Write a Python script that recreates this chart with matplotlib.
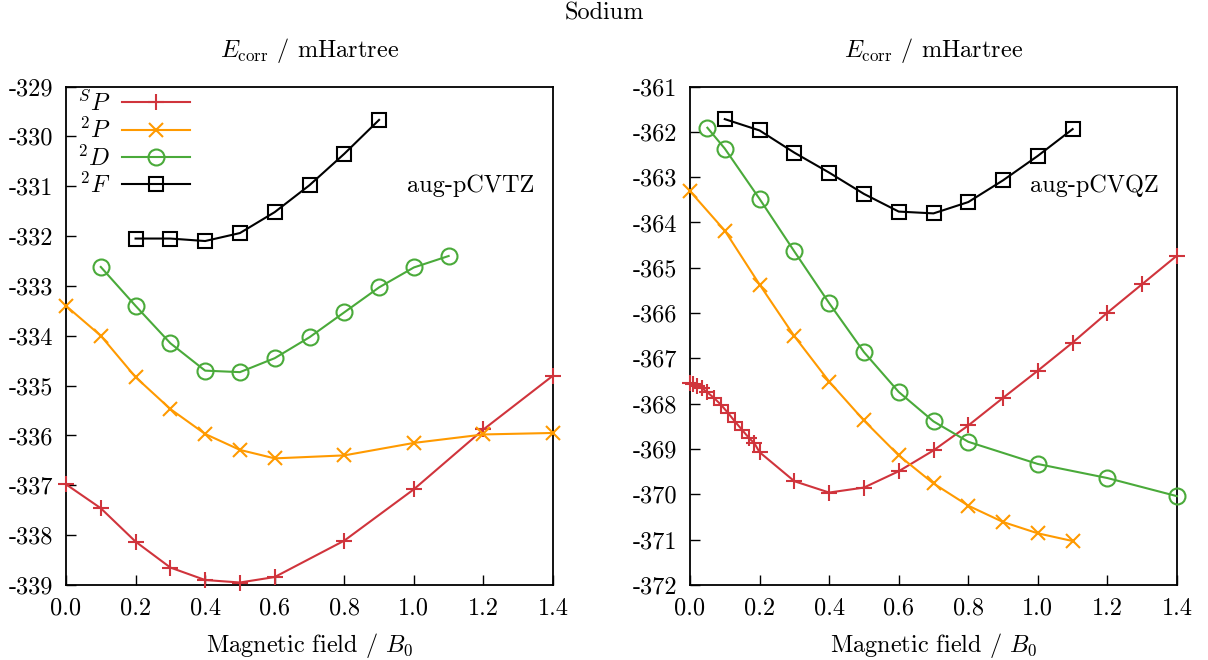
import numpy as np
import matplotlib
matplotlib.use('Agg')
import matplotlib.pyplot as plt

plt.rcParams['font.family'] = 'serif'
plt.rcParams['font.serif'] = ['cmr10', 'DejaVu Serif']
plt.rcParams['mathtext.fontset'] = 'cm'
plt.rcParams['axes.unicode_minus'] = False
plt.rcParams['axes.formatter.use_mathtext'] = False

# data
# left panel: aug-pCVTZ
tz_sp_x = [0.0, 0.1, 0.2, 0.3, 0.4, 0.5, 0.6, 0.8, 1.0, 1.2, 1.4]
tz_sp_y = [-336.98, -337.46, -338.13, -338.65, -338.90, -338.95, -338.84, -338.11, -337.08, -335.88, -334.80]
tz_2p_x = [0.0, 0.1, 0.2, 0.3, 0.4, 0.5, 0.6, 0.8, 1.0, 1.2, 1.4]
tz_2p_y = [-333.40, -334.00, -334.83, -335.47, -335.97, -336.29, -336.46, -336.40, -336.15, -335.98, -335.95]
tz_2d_x = [0.1, 0.2, 0.3, 0.4, 0.5, 0.6, 0.7, 0.8, 0.9, 1.0, 1.1]
tz_2d_y = [-332.62, -333.40, -334.15, -334.70, -334.73, -334.45, -334.03, -333.53, -333.03, -332.63, -332.40]
tz_2f_x = [0.2, 0.3, 0.4, 0.5, 0.6, 0.7, 0.8, 0.9]
tz_2f_y = [-332.05, -332.05, -332.10, -331.94, -331.52, -330.98, -330.35, -329.67]

# right panel: aug-pCVQZ
qz_sp_x = [0.0, 0.01, 0.02, 0.035, 0.05, 0.07, 0.09, 0.11, 0.13, 0.15, 0.17, 0.185, 0.2,
           0.3, 0.4, 0.5, 0.6, 0.7, 0.8, 0.9, 1.0, 1.1, 1.2, 1.3, 1.4]
qz_sp_y = [-367.55, -367.57, -367.60, -367.66, -367.75, -367.88, -368.03, -368.21, -368.40, -368.58,
           -368.76, -368.87, -369.07, -369.71, -369.96, -369.85, -369.49, -369.03, -368.48, -367.87,
           -367.27, -366.65, -365.99, -365.36, -364.73]
qz_2p_x = [0.0, 0.1, 0.2, 0.3, 0.4, 0.5, 0.6, 0.7, 0.8, 0.9, 1.0, 1.1]
qz_2p_y = [-363.31, -364.18, -365.37, -366.51, -367.51, -368.37, -369.14, -369.76, -370.25, -370.61, -370.86, -371.03]
qz_2d_x = [0.05, 0.1, 0.2, 0.3, 0.4, 0.5, 0.6, 0.7, 0.8, 1.0, 1.2, 1.4]
qz_2d_y = [-361.91, -362.37, -363.48, -364.64, -365.78, -366.86, -367.74, -368.39, -368.84, -369.33, -369.64, -370.04]
qz_2f_x = [0.1, 0.2, 0.3, 0.4, 0.5, 0.6, 0.7, 0.8, 0.9, 1.0, 1.1]
qz_2f_y = [-361.72, -361.97, -362.46, -362.90, -363.37, -363.76, -363.80, -363.55, -363.07, -362.53, -361.94]

labels = ['$^{S}P$', '$^{2}P$', '$^{2}D$', '$^{2}F$']
colors = ['#d0343c', '#ff9a00', '#4aaa3a', '#000000']
markers = ['+', 'x', 'o', 's']
msizes = [12, 10.5, 11.5, 10.5]

FS = 17.5

fig = plt.figure(figsize=(12.08, 6.6), dpi=100)
ax1 = fig.add_axes([66 / 1208, 1 - 585 / 660, 487 / 1208, 498.5 / 660])
ax2 = fig.add_axes([690 / 1208, 1 - 585 / 660, 487 / 1208, 498.5 / 660])

panels = [
    (ax1, [(tz_sp_x, tz_sp_y), (tz_2p_x, tz_2p_y), (tz_2d_x, tz_2d_y), (tz_2f_x, tz_2f_y)],
     (-339, -329), 'aug-pCVTZ'),
    (ax2, [(qz_sp_x, qz_sp_y), (qz_2p_x, qz_2p_y), (qz_2d_x, qz_2d_y), (qz_2f_x, qz_2f_y)],
     (-372, -361), 'aug-pCVQZ'),
]

for ax, series, ylim, basis in panels:
    for (x, y), lab, c, m, ms in zip(series, labels, colors, markers, msizes):
        ax.plot(x, y, color=c, lw=1.5, marker=m, ms=ms, mew=1.5,
                mfc='none', mec=c, label=lab, clip_on=False, zorder=3)
    ax.set_xlim(0, 1.4)
    ax.set_ylim(*ylim)
    ax.set_xticks(np.arange(0, 1.41, 0.2))
    ax.set_yticks(np.arange(ylim[0], ylim[1] + 1))
    ax.tick_params(direction='in', length=7, width=1.0, labelsize=FS, pad=9,
                   top=False, right=False)
    for s in ax.spines.values():
        s.set_linewidth(1.3)
    ax.set_xlabel('Magnetic field / $B_0$', fontsize=FS, labelpad=8)
    ax.set_title('$E_{\\rm corr}$ / mHartree', fontsize=FS, pad=21)
    ax.text(0.83, 0.80, basis, transform=ax.transAxes, fontsize=FS,
            ha='center', va='center')

leg = ax1.legend(loc='upper left', bbox_to_anchor=(-0.013, 1.027), markerfirst=False,
                 frameon=False, fontsize=FS, handlelength=2.8, handletextpad=0.5,
                 labelspacing=0.08, borderaxespad=0.3)

fig.text(0.5, 1 - 20 / 660, 'Sodium', fontsize=FS, ha='center', va='baseline')

fig.savefig('out.png', dpi=100)
